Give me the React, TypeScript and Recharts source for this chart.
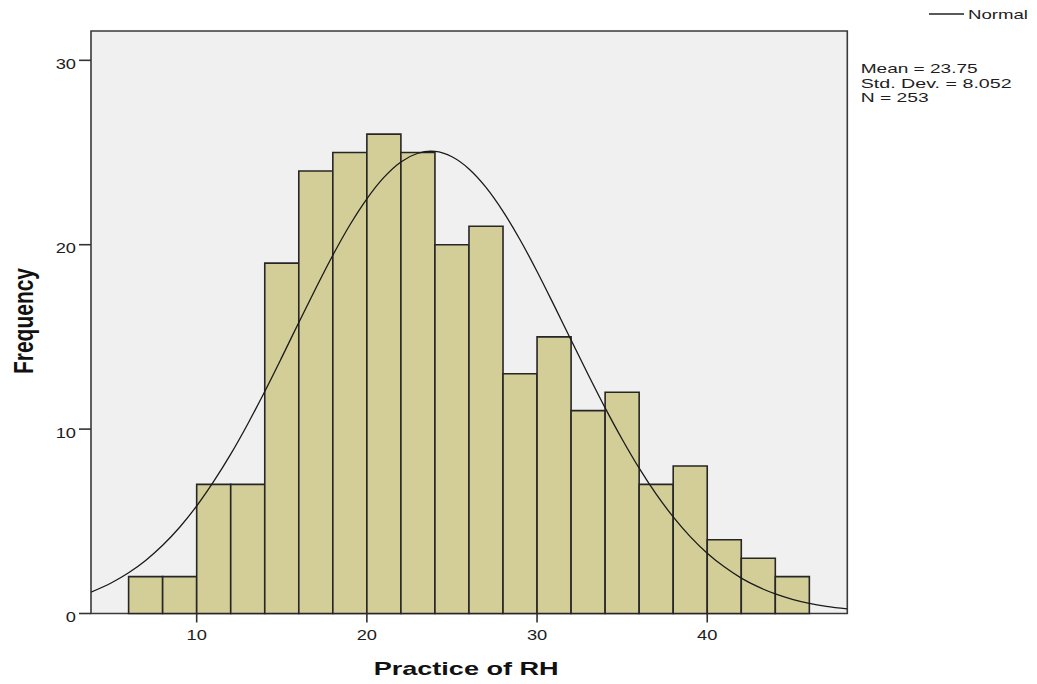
import React from 'react';
import {
  ComposedChart,
  Line,
  XAxis,
  YAxis,
  ReferenceArea,
  Legend,
} from 'recharts';

// Histogram bins (Practice of RH), width 2
const binEdges = [6, 8, 10, 12, 14, 16, 18, 20, 22, 24, 26, 28, 30, 32, 34, 36, 38, 40, 42, 44, 46];
const frequencies = [2, 2, 7, 7, 19, 24, 25, 26, 25, 20, 21, 13, 15, 11, 12, 7, 8, 4, 3, 2];

// Normal curve points
const curveX = [3.79, 5, 6, 7, 8, 9, 10, 11, 12, 13, 14, 15, 16, 17, 18, 19, 20, 21, 22, 23, 23.75, 24, 25, 26, 27, 28, 29, 30, 31, 32, 33, 34, 35, 36, 37, 38, 39, 40, 41, 42, 43, 44, 45, 46, 47, 48.23];
const curveY = [1.16, 1.67, 2.21, 2.88, 3.7, 4.68, 5.83, 7.16, 8.64, 10.28, 12.04, 13.89, 15.78, 17.64, 19.43, 21.07, 22.49, 23.65, 24.49, 24.96, 25.07, 25.06, 24.77, 24.11, 23.11, 21.81, 20.27, 18.55, 16.71, 14.83, 12.96, 11.15, 9.45, 7.88, 6.47, 5.24, 4.17, 3.27, 2.53, 1.92, 1.44, 1.06, 0.77, 0.55, 0.39, 0.25];

const xTicks = [10, 20, 30, 40];
const yTicks = [0, 10, 20, 30];
const xDomain = [3.79, 48.23];
const yDomain = [0, 31.59];

const statLines = ['Mean = 23.75', 'Std. Dev. = 8.052', 'N = 253'];
const statWidths = [117, 151, 68];

const FONT = '"Liberation Sans", Arial, sans-serif';
const TEXT = '#1e1e1e';

const lineData = curveX.map((x, i) => ({ x, y: curveY[i] }));

const XTick = (props: any) => {
  const { x, y, payload } = props;
  return (
    <text
      x={0}
      y={0}
      transform={`translate(${x},${y + 17.5}) scale(1.22,1)`}
      textAnchor="middle"
      fontSize={15}
      fontFamily={FONT}
      fill={TEXT}
    >
      {payload.value}
    </text>
  );
};

const YTick = (props: any) => {
  const { x, y, payload } = props;
  return (
    <text
      x={0}
      y={0}
      transform={`translate(${x},${y + 8.5}) scale(1.22,1)`}
      textAnchor="end"
      fontSize={15}
      fontFamily={FONT}
      fill={TEXT}
    >
      {payload.value}
    </text>
  );
};

const LegendContent = (props: any) => {
  const name = props.payload && props.payload[0] ? props.payload[0].value : 'Normal';
  return (
    <svg width={110} height={20} style={{ display: 'block' }}>
      <line x1={0} y1={6} x2={35} y2={6} stroke="#222" strokeWidth={1.3} />
      <text
        x={39}
        y={11}
        fontSize={13}
        fontFamily={FONT}
        fill={TEXT}
        textLength={60}
        lengthAdjust="spacingAndGlyphs"
      >
        {name}
      </text>
    </svg>
  );
};

export default function App() {
  return (
    <div style={{ width: 1021, height: 676, background: '#fff', marginBottom: -8, overflow: 'hidden' }}>
      <ComposedChart
        width={1021}
        height={676}
        data={lineData}
        margin={{ top: 23, right: 181.7, bottom: 40.5, left: 0 }}
      >
        <XAxis
          dataKey="x"
          type="number"
          domain={xDomain}
          allowDataOverflow
          ticks={xTicks}
          tick={<XTick />}
          tickSize={9}
          tickMargin={0}
          height={30}
          axisLine={false}
          tickLine={{ stroke: '#333', strokeWidth: 1.6 }}
          label={{
            content: (p: any) => {
              const vb = p.viewBox || { x: 83, y: 605.5, width: 756, height: 30 };
              const cx = vb.x + vb.width / 2 - 3;
              return (
                <text
                  x={cx}
                  y={667}
                  textAnchor="middle"
                  fontSize={19}
                  fontWeight="bold"
                  fontFamily={FONT}
                  fill="#111"
                  textLength={185}
                  lengthAdjust="spacingAndGlyphs"
                >
                  Practice of RH
                </text>
              );
            },
          }}
        />
        <YAxis
          type="number"
          domain={yDomain}
          allowDataOverflow
          ticks={yTicks}
          tick={<YTick />}
          tickSize={12}
          tickMargin={3}
          width={83}
          axisLine={false}
          tickLine={{ stroke: '#333', strokeWidth: 1.6 }}
          label={{
            content: () => (
              <text
                x={0}
                y={0}
                transform="translate(24.6,313) rotate(-90) scale(1,1.3)"
                textAnchor="middle"
                fontSize={21}
                fontWeight="bold"
                fontFamily={FONT}
                fill="#111"
                textLength={106}
                lengthAdjust="spacingAndGlyphs"
              >
                Frequency
              </text>
            ),
          }}
        />
        <ReferenceArea
          x1={xDomain[0]}
          x2={xDomain[1]}
          y1={yDomain[0]}
          y2={yDomain[1]}
          fill="#f0f0f0"
          fillOpacity={1}
          stroke="#3a3a3a"
          strokeWidth={1.6}
        />
        {frequencies.map((f, i) => (
          <ReferenceArea
            key={i}
            x1={binEdges[i]}
            x2={binEdges[i + 1]}
            y1={0}
            y2={f}
            fill="#d3ce97"
            fillOpacity={1}
            stroke="#262626"
            strokeWidth={1.6}
          />
        ))}
        <Line
          type="monotone"
          dataKey="y"
          name="Normal"
          stroke="#1a1a1a"
          strokeWidth={1.3}
          dot={false}
          activeDot={false}
          isAnimationActive={false}
          legendType="line"
        />
        <Legend
          layout="horizontal"
          verticalAlign="middle"
          align="center"
          content={<LegendContent />}
          wrapperStyle={{ position: 'absolute', top: 0, left: 921, width: 110, height: 20 }}
        />
        <g>
          {statLines.map((s, i) => (
            <text
              key={s}
              x={852.7}
              y={65.3 + i * 14.4}
              fontSize={13}
              fontFamily={FONT}
              fill={TEXT}
              textLength={statWidths[i]}
              lengthAdjust="spacingAndGlyphs"
            >
              {s}
            </text>
          ))}
        </g>
      </ComposedChart>
    </div>
  );
}
